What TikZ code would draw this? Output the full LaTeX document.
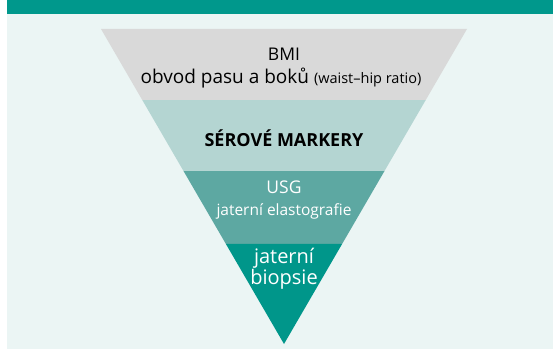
\documentclass[tikz,border=0pt]{standalone}
\usepackage{fontspec}
\setmainfont{Open Sans}
\usetikzlibrary{calc}
\definecolor{barteal}{HTML}{00988C}
\definecolor{bgmint}{HTML}{EBF5F4}
\definecolor{bandgray}{HTML}{D9D9D9}
\definecolor{bandlight}{HTML}{B4D5D2}
\definecolor{bandmid}{HTML}{5DA8A2}
\definecolor{banddark}{HTML}{00968A}
\begin{document}
\begin{tikzpicture}[x=1pt,y=-1pt,
        bandtext/.style={anchor=base, inner sep=0pt, font=\fontsize{17.5}{20}\selectfont},
    ]
        \useasboundingbox (0,0) rectangle (553,350);
        %Background
        \fill[bgmint] (7,14) rectangle (553,349);
        \fill[barteal] (7,0) rectangle (553,14);

        %Funnel
        \coordinate (tl) at (101,29);
        \coordinate (tr) at (467,29);
        \coordinate (apex) at (284,344);
        \coordinate (l1) at ($(tl)!0.2254!(apex)$);
        \coordinate (r1) at ($(tr)!0.2254!(apex)$);
        \coordinate (l2) at ($(tl)!0.4508!(apex)$);
        \coordinate (r2) at ($(tr)!0.4508!(apex)$);
        \coordinate (l3) at ($(tl)!0.6825!(apex)$);
        \coordinate (r3) at ($(tr)!0.6825!(apex)$);

        \fill[bandgray] (tl) -- (tr) -- (r1) -- (l1) -- cycle;
        \fill[bandlight] (l1) -- (r1) -- (r2) -- (l2) -- cycle;
        \fill[bandmid] (l2) -- (r2) -- (r3) -- (l3) -- cycle;
        \fill[banddark] (l3) -- (r3) -- (apex) -- cycle;

        %Texts
        \node[bandtext] (bmi) at (284,61) {BMI};
        \node[bandtext, font=\fontsize{19}{22}\selectfont] (obvod) at (281,84) {obvod pasu a boků {\fontsize{14.5}{16}\selectfont (waist–hip ratio)}};
        \node[bandtext, font=\fontsize{18}{21}\selectfont\bfseries] (markery) at (284,146) {SÉROVÉ MARKERY};
        \node[bandtext, text=white] (usg) at (284,193) {USG};
        \node[bandtext, text=white, font=\fontsize{15.5}{18}\selectfont] (elasto) at (284,215) {jaterní elastografie};
        \node[bandtext, text=white, font=\fontsize{20}{23}\selectfont] (jaterni) at (284,263) {jaterní};
        \node[bandtext, text=white, font=\fontsize{20}{23}\selectfont] (biopsie) at (284,284) {biopsie};
    \end{tikzpicture}
\end{document}
